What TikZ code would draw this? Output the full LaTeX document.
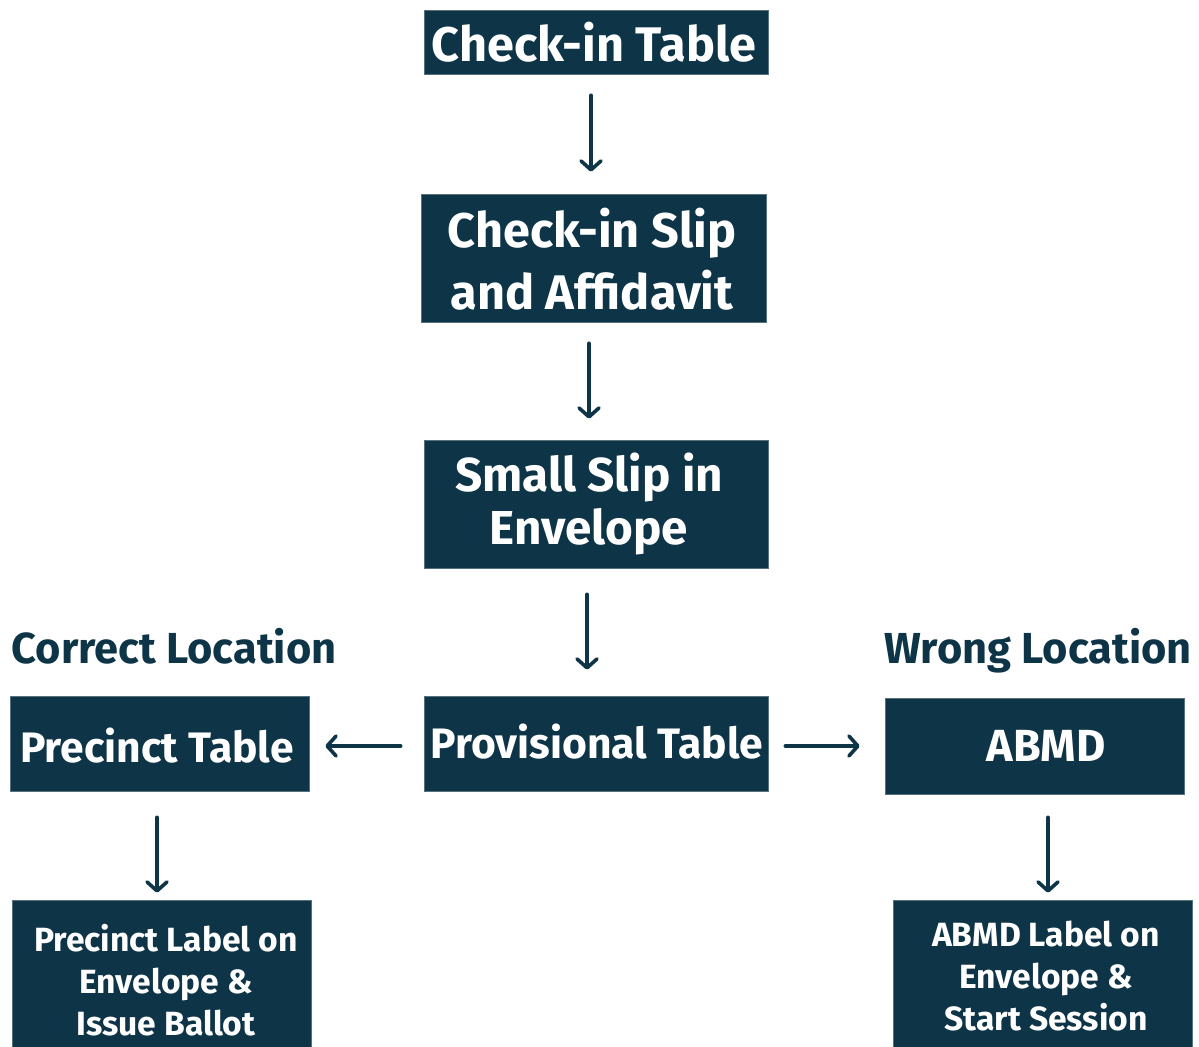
\documentclass[tikz,border=0pt]{standalone}
\usepackage{fontspec}
\setmainfont{Fira Sans}
\usetikzlibrary{arrows.meta}
\definecolor{navy}{RGB}{13,52,71}
\begin{document}
\begin{tikzpicture}[x=0.5pt,y=-0.5pt,
  box/.style={fill=navy, draw=navy!70!white, line width=0.3pt, inner sep=0pt},
  wtxt/.style={text=white, inner sep=0pt, align=center},
  big/.style={font=\bfseries\fontsize{24.3}{31}\selectfont},
  mid/.style={font=\bfseries\fontsize{21.3}{24}\selectfont},
  small/.style={font=\bfseries\fontsize{16.8}{21}\selectfont},
  head/.style={text=navy, inner sep=0pt, anchor=base, font=\bfseries\fontsize{21.7}{24}\selectfont},
  arr/.style={draw=navy, line width=1.8pt, line cap=round,
    -{Straight Barb[length=4.5pt,width=10pt,line cap=round,line join=round]}},
]
\useasboundingbox (0,0) rectangle (1199,1047);
\clip (0,0) rectangle (1199,1047);

% boxes
\node[box, minimum width=172pt, minimum height=32pt] (checkin) at (596,42) {};
\node[wtxt, big] (checkinT) at (594,42) {Check-in Table};

\node[box, minimum width=172.5pt, minimum height=64pt] (slip) at (593.5,258) {};
\node[wtxt, big] (slipT) at (592,259) {Check-in Slip\\and Affidavit};

\node[box, minimum width=172pt, minimum height=64pt] (small) at (596,504) {};
\node[wtxt, font=\bfseries\fontsize{23.8}{26.5}\selectfont] (smallT) at (589,504) {Small Slip in\\Envelope};

\node[box, minimum width=172pt, minimum height=47.5pt] (prov) at (596,743.5) {};
\node[wtxt, mid] (provT) at (597,742) {Provisional Table};

\node[box, minimum width=149.5pt, minimum height=47.5pt] (prec) at (159.5,743.5) {};
\node[wtxt, mid] (precT) at (157,746) {Precinct Table};

\node[box, minimum width=149.5pt, minimum height=48pt] (abmd) at (1034.5,746) {};
\node[wtxt, font=\bfseries\fontsize{22.5}{24}\selectfont] (abmdT) at (1046,746) {ABMD};

\node[box, minimum width=149.5pt, minimum height=85pt] (plabel) at (161.5,985) {};
\node[wtxt, small] (plabelT) at (166,980) {Precinct Label on\\Envelope \&\\Issue Ballot};

\node[box, minimum width=149.5pt, minimum height=85pt] (alabel) at (1042.5,985) {};
\node[wtxt, small] (alabelT) at (1046,976) {ABMD Label on\\Envelope \&\\Start Session};

% headings
\node[head] (correct) at (174,663) {Correct Location};
\node[head] (wrong) at (1038,663) {Wrong Location};

% arrows
\draw[arr, shorten <=10.5pt, shorten >=11pt] (checkin.south -| 591,0) -- (slip.north -| 591,0);
\draw[arr, shorten <=10.5pt, shorten >=10.5pt] (slip.south -| 589,0) -- (small.north -| 589,0);
\draw[arr, shorten <=13pt, shorten >=13pt] (small.south -| 587,0) -- (prov.north -| 587,0);
\draw[arr, shorten <=11.5pt, shorten >=8pt] (prov.west |- 0,746) -- (prec.east |- 0,746);
\draw[arr, shorten <=8.5pt, shorten >=12.5pt] (prov.east |- 0,746) -- (abmd.west |- 0,746);
\draw[arr, shorten <=13pt, shorten >=3.5pt] (prec.south -| 157,0) -- (plabel.north -| 157,0);
\draw[arr, shorten <=11.5pt, shorten >=3.5pt] (abmd.south -| 1048,0) -- (alabel.north -| 1048,0);
\end{tikzpicture}
\end{document}
